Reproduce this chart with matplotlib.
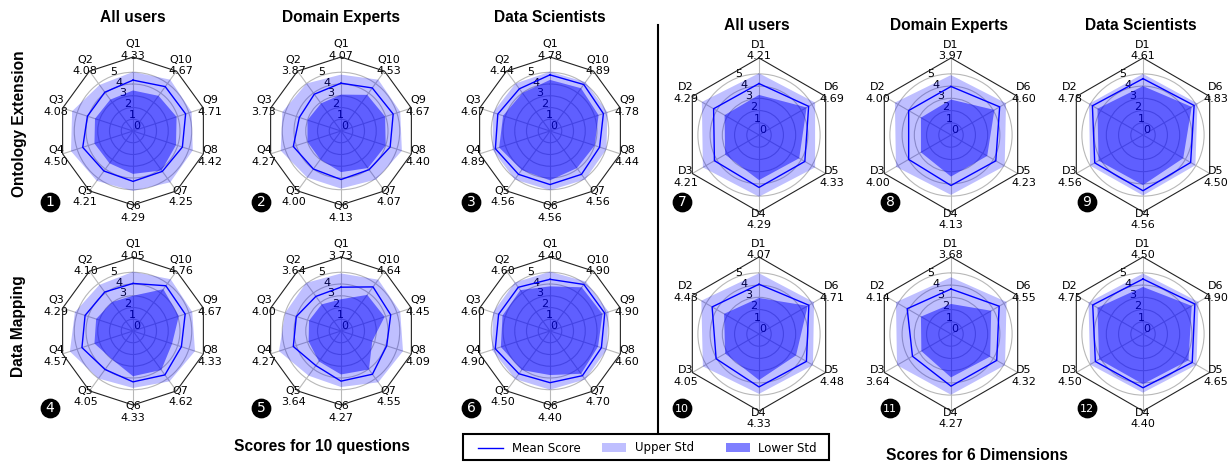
import numpy as np
import matplotlib
matplotlib.use('Agg')
import matplotlib.pyplot as plt
from matplotlib.patches import Rectangle

# Canvas size in pixels (dpi 100)
W, H = 1231, 463
r_max = 6.3      # radius of the polygon frame
r_lab = 6.9      # radius where the axis names are written

# Axis names
q_names = ['Q%d' % i for i in range(1, 11)]
d_names = ['D%d' % i for i in range(1, 7)]

# Ontology Extension - 10 questions (Q1..Q10): mean, upper std edge, lower std edge
oe_all_mean = [4.33, 4.08, 4.08, 4.50, 4.21, 4.29, 4.25, 4.42, 4.71, 4.67]
oe_all_up = [5.03, 4.85, 5.45, 5.55, 5.25, 5.10, 5.40, 5.35, 5.25, 5.40]
oe_all_low = [3.45, 3.30, 3.40, 3.45, 3.40, 3.65, 4.15, 3.85, 3.90, 3.70]
oe_de_mean = [4.07, 3.87, 3.73, 4.27, 4.00, 4.13, 4.07, 4.40, 4.67, 4.53]
oe_de_up = [4.80, 5.00, 5.25, 5.40, 4.90, 4.90, 5.10, 5.45, 5.30, 5.40]
oe_de_low = [3.10, 2.90, 3.00, 3.00, 3.00, 3.50, 3.90, 4.00, 3.95, 3.80]
oe_ds_mean = [4.78, 4.44, 4.67, 4.89, 4.56, 4.56, 4.56, 4.44, 4.78, 4.89]
oe_ds_up = [5.05, 5.00, 5.10, 5.15, 5.10, 5.05, 5.10, 5.05, 5.15, 5.15]
oe_ds_low = [4.35, 4.00, 4.20, 4.55, 4.10, 4.20, 3.90, 4.00, 4.35, 4.50]

# Data Mapping - 10 questions
dm_all_mean = [4.05, 4.10, 4.29, 4.57, 4.05, 4.33, 4.62, 4.33, 4.67, 4.76]
dm_all_up = [5.04, 4.86, 5.20, 5.65, 5.00, 4.85, 5.30, 5.55, 5.30, 5.45]
dm_all_low = [3.00, 3.04, 3.30, 3.45, 3.00, 3.85, 4.10, 3.50, 4.10, 4.40]
dm_de_mean = [3.73, 3.64, 4.00, 4.27, 3.64, 4.27, 4.55, 4.09, 4.45, 4.64]
dm_de_up = [4.90, 5.06, 5.00, 5.55, 4.70, 4.77, 5.40, 5.55, 5.30, 5.40]
dm_de_low = [2.70, 2.80, 2.86, 2.90, 3.20, 3.70, 4.05, 2.80, 3.90, 3.80]
dm_ds_mean = [4.40, 4.60, 4.60, 4.90, 4.50, 4.40, 4.70, 4.60, 4.90, 4.90]
dm_ds_up = [5.05, 5.10, 5.10, 5.20, 5.05, 5.00, 5.10, 5.10, 5.25, 5.20]
dm_ds_low = [3.80, 4.30, 4.25, 4.40, 4.10, 3.75, 4.50, 4.30, 4.70, 4.60]

# Ontology Extension - 6 dimensions (D1..D6)
oe_dim_all_mean = [4.21, 4.29, 4.21, 4.29, 4.33, 4.69]
oe_dim_all_up = [5.05, 5.40, 5.30, 5.05, 5.30, 5.30]
oe_dim_all_low = [3.28, 3.25, 3.20, 3.69, 3.80, 4.50]
oe_dim_de_mean = [3.97, 4.00, 4.00, 4.13, 4.23, 4.60]
oe_dim_de_up = [4.90, 5.30, 5.20, 4.90, 5.07, 5.20]
oe_dim_de_low = [2.90, 2.84, 2.84, 3.40, 3.42, 4.10]
oe_dim_ds_mean = [4.61, 4.78, 4.56, 4.56, 4.50, 4.83]
oe_dim_ds_up = [5.00, 5.10, 5.00, 4.95, 4.95, 5.15]
oe_dim_ds_low = [4.00, 4.30, 4.20, 4.10, 3.80, 4.60]

# Data Mapping - 6 dimensions
dm_dim_all_mean = [4.07, 4.43, 4.05, 4.33, 4.48, 4.71]
dm_dim_all_up = [4.97, 5.45, 5.30, 4.90, 5.10, 5.20]
dm_dim_all_low = [2.95, 3.30, 3.20, 3.77, 3.50, 4.60]
dm_dim_de_mean = [3.68, 4.14, 3.64, 4.27, 4.32, 4.55]
dm_dim_de_up = [4.64, 5.20, 5.10, 4.97, 5.10, 5.25]
dm_dim_de_low = [2.46, 2.84, 2.80, 3.55, 3.70, 3.80]
dm_dim_ds_mean = [4.50, 4.75, 4.50, 4.40, 4.65, 4.90]
dm_dim_ds_up = [4.95, 5.15, 5.00, 4.80, 5.05, 5.25]
dm_dim_ds_low = [3.85, 4.30, 4.15, 4.10, 4.30, 4.60]

group_titles = ['All users', 'Domain Experts', 'Data Scientists']
row_titles = ['Ontology Extension', 'Data Mapping']
legend_labels = ['Mean Score', 'Upper Std', 'Lower Std']

fig = plt.figure(figsize=(W / 100, H / 100), dpi=100)


def polar_at(cx, cy, r):
    return fig.add_axes([(cx - r) / W, 1 - (cy + r) / H, 2 * r / W, 2 * r / H], projection='polar')


def closed(v):
    return np.append(v, v[0])


def radar(ax, names, mean, up, low):
    n = len(names)
    th = np.linspace(0, 2 * np.pi, n, endpoint=False)
    thc = closed(th)
    ax.set_theta_offset(np.pi / 2)
    ax.fill(thc, closed(up), color='blue', alpha=0.25, lw=0, zorder=2)
    ax.fill(thc, closed(low), color='blue', alpha=0.5, lw=0, zorder=2)
    ax.plot(thc, closed(mean), color='blue', lw=1, zorder=3)
    ax.plot(thc, [r_max] * (n + 1), color='#222222', lw=0.8, clip_on=False, zorder=4)
    ax.set_ylim(0, r_max)
    ax.set_yticks(range(6))
    ax.set_yticklabels([str(i) for i in range(6)], fontsize=8)
    ax.set_xticks(th)
    ax.set_xticklabels([])
    for t, a, v in zip(th, names, mean):
        ax.text(t, r_lab, '%s\n%.2f' % (a, v), fontsize=8, ha='center', va='center', clip_on=False)
    ax.spines['polar'].set_visible(False)
    ax.grid(color='#b8b8b8', lw=0.8)
    ax.set_axisbelow(True)


# Left block: 10 questions
left_x = [133, 341, 550]
left_y = [131, 331]
left_data = [[(oe_all_mean, oe_all_up, oe_all_low), (oe_de_mean, oe_de_up, oe_de_low),
              (oe_ds_mean, oe_ds_up, oe_ds_low)],
             [(dm_all_mean, dm_all_up, dm_all_low), (dm_de_mean, dm_de_up, dm_de_low),
              (dm_ds_mean, dm_ds_up, dm_ds_low)]]
for i in range(2):
    for j in range(3):
        ax = polar_at(left_x[j], left_y[i], 74)
        radar(ax, q_names, *left_data[i][j])

# Right block: 6 dimensions
right_x = [759, 951, 1143]
right_y = [135, 334]
right_data = [[(oe_dim_all_mean, oe_dim_all_up, oe_dim_all_low), (oe_dim_de_mean, oe_dim_de_up, oe_dim_de_low),
               (oe_dim_ds_mean, oe_dim_ds_up, oe_dim_ds_low)],
              [(dm_dim_all_mean, dm_dim_all_up, dm_dim_all_low), (dm_dim_de_mean, dm_dim_de_up, dm_dim_de_low),
               (dm_dim_ds_mean, dm_dim_ds_up, dm_dim_ds_low)]]
for i in range(2):
    for j in range(3):
        ax = polar_at(right_x[j], right_y[i], 77)
        radar(ax, d_names, *right_data[i][j])

# Overlay in pixel coordinates for texts, badges, divider and legend
ov = fig.add_axes([0, 0, 1, 1], facecolor='none')
ov.set_xlim(0, W)
ov.set_ylim(H, 0)
ov.axis('off')

bold = dict(family='Liberation Sans', fontweight='bold', fontsize=11.2, ha='center', va='center')
for j in range(3):
    ov.text(left_x[j], 17.5, group_titles[j], **bold)
    ov.text(right_x[j] - 2, 25.5, group_titles[j], **bold)
ov.text(20, 124, row_titles[0], rotation=90, **bold)
ov.text(19, 326, row_titles[1], rotation=90, **bold)
ov.text(322, 447, 'Scores for 10 questions', **bold)
ov.text(977, 456, 'Scores for 6 Dimensions', **bold)

ov.plot([658, 658], [25, 433], color='black', lw=1.5)

badge_x = [50, 261, 471, 682, 890, 1087]
badge_y = [202, 408]
num = 1
for blk in range(2):
    for i in range(2):
        for j in range(3):
            bx = badge_x[blk * 3 + j]
            by = badge_y[i]
            ov.scatter([bx], [by], s=175, color='black', zorder=5)
            ov.text(bx, by + 0.5, str(num), color='white', ha='center', va='center',
                    fontsize=10 if num < 10 else 8, zorder=6)
            num += 1

# Legend box
ov.add_patch(Rectangle((463, 434), 366, 26, fill=False, edgecolor='black', lw=1.5))
ov.plot([478, 503], [448, 448], color='blue', lw=1)
ov.add_patch(Rectangle((602, 443), 24, 9, facecolor='blue', alpha=0.25, lw=0))
ov.add_patch(Rectangle((726, 443), 24, 9, facecolor='blue', alpha=0.5, lw=0))
for tx, lab in zip([512, 635, 758], legend_labels):
    ov.text(tx, 448, lab, fontsize=8.5, ha='left', va='center')

fig.savefig('out.png', dpi=100)
